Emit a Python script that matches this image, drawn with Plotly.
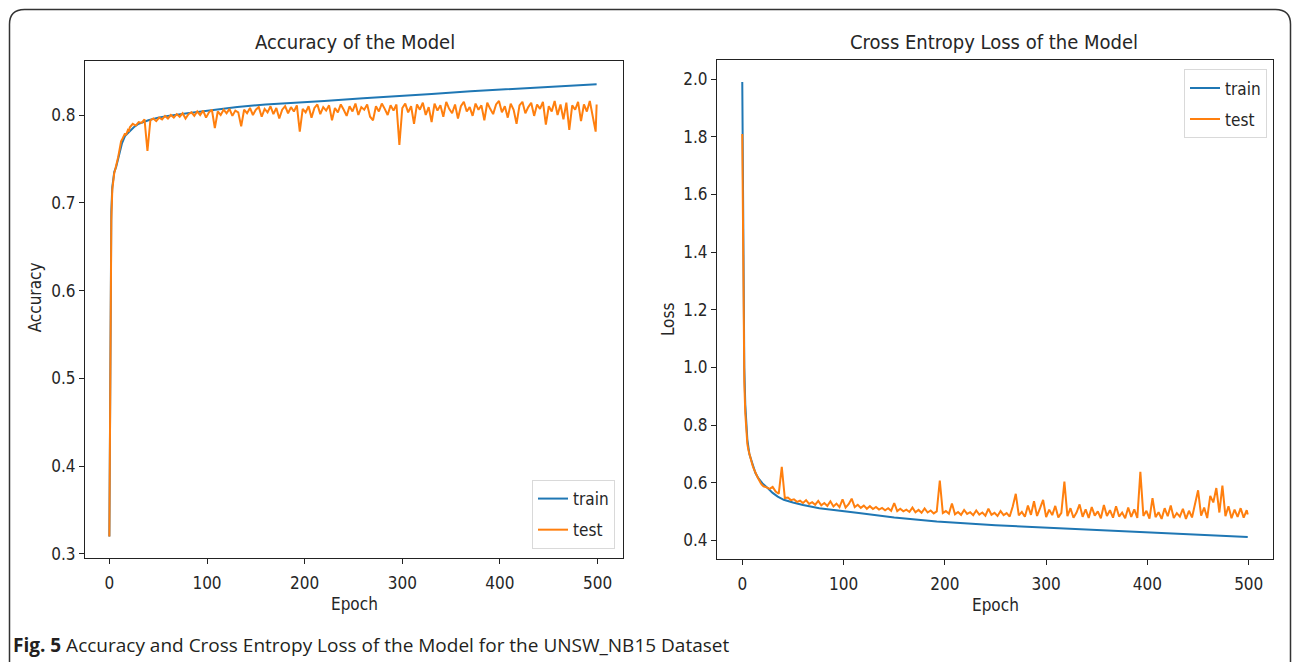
import plotly.graph_objects as go

W, H = 1292, 668

# ---------------- data ----------------
train_acc_epochs = [0, 1, 2, 3, 4, 5, 7, 10, 13, 16, 20, 25, 30, 40, 50, 60, 80, 100, 131, 160, 185, 220, 260, 293, 330, 370, 400, 440, 470, 499]
train_acc = [0.320, 0.600, 0.690, 0.718, 0.728, 0.735, 0.741, 0.756, 0.768, 0.776, 0.781, 0.786, 0.790, 0.794, 0.797, 0.799, 0.802, 0.805, 0.809, 0.812, 0.814, 0.816, 0.819, 0.821, 0.824, 0.827, 0.829, 0.831, 0.833, 0.835]

test_acc_epochs = list(range(0, 21)) + list(range(21, 499, 3)) + [499]
test_acc = [
    0.320, 0.580, 0.680, 0.715, 0.728, 0.734, 0.738, 0.742, 0.748, 0.752,
    0.758, 0.765, 0.770, 0.772, 0.775, 0.776, 0.779, 0.777, 0.781, 0.783, 0.782,
    0.786, 0.790, 0.788, 0.792, 0.791, 0.795, 0.759, 0.794, 0.796, 0.793,
    0.797, 0.795, 0.799, 0.796, 0.800, 0.797, 0.801, 0.798, 0.802, 0.796,
    0.801, 0.803, 0.799, 0.804, 0.800, 0.805, 0.797, 0.803, 0.806, 0.785,
    0.804, 0.800, 0.806, 0.802, 0.807, 0.799, 0.805, 0.803, 0.787, 0.806,
    0.802, 0.808, 0.800, 0.806, 0.809, 0.798, 0.807, 0.803, 0.810, 0.801,
    0.808, 0.796, 0.806, 0.810, 0.802, 0.809, 0.804, 0.811, 0.781, 0.807,
    0.803, 0.810, 0.797, 0.808, 0.812, 0.801, 0.809, 0.805, 0.811, 0.794,
    0.808, 0.803, 0.812, 0.806, 0.799, 0.810, 0.804, 0.813, 0.800, 0.809,
    0.806, 0.812, 0.798, 0.794, 0.810, 0.804, 0.813, 0.807, 0.800, 0.811,
    0.805, 0.812, 0.766, 0.808, 0.813, 0.803, 0.810, 0.790, 0.812, 0.806,
    0.814, 0.800, 0.809, 0.792, 0.813, 0.805, 0.811, 0.798, 0.815, 0.807,
    0.802, 0.812, 0.796, 0.810, 0.815, 0.804, 0.809, 0.799, 0.813, 0.806,
    0.811, 0.794, 0.814, 0.807, 0.801, 0.812, 0.816, 0.803, 0.810, 0.797,
    0.813, 0.806, 0.790, 0.811, 0.815, 0.802, 0.809, 0.814, 0.799, 0.812,
    0.807, 0.815, 0.789, 0.810, 0.804, 0.816, 0.800, 0.812, 0.795, 0.814,
    0.783, 0.811, 0.806, 0.815, 0.793, 0.812, 0.804, 0.816, 0.799, 0.781,
    0.812,
]

train_loss_epochs = [0, 1, 2, 3, 4, 5, 7, 10, 13, 16, 20, 25, 30, 35, 41, 50, 60, 76, 95, 115, 150, 192, 250, 308, 350, 400, 450, 499]
train_loss = [1.990, 1.300, 1.000, 0.870, 0.800, 0.750, 0.700, 0.665, 0.634, 0.615, 0.598, 0.582, 0.565, 0.552, 0.541, 0.532, 0.523, 0.512, 0.503, 0.495, 0.480, 0.466, 0.453, 0.443, 0.436, 0.428, 0.420, 0.412]

test_loss_epochs = list(range(0, 21)) + list(range(21, 499, 3)) + [499]
test_loss = [
    1.810, 1.250, 0.950, 0.840, 0.770, 0.735, 0.715, 0.700, 0.685, 0.672,
    0.662, 0.652, 0.642, 0.635, 0.628, 0.620, 0.612, 0.606, 0.600, 0.595, 0.590,
    0.588, 0.584, 0.579, 0.586, 0.570, 0.562, 0.655, 0.547, 0.549, 0.540,
    0.543, 0.534, 0.538, 0.530, 0.540, 0.527, 0.533, 0.524, 0.537, 0.522,
    0.530, 0.520, 0.536, 0.518, 0.528, 0.516, 0.543, 0.514, 0.526, 0.545,
    0.516, 0.524, 0.513, 0.521, 0.510, 0.519, 0.509, 0.516, 0.507, 0.513,
    0.505, 0.512, 0.503, 0.530, 0.502, 0.510, 0.501, 0.507, 0.499, 0.514,
    0.498, 0.506, 0.496, 0.511, 0.497, 0.504, 0.494, 0.501, 0.608, 0.495,
    0.502, 0.493, 0.528, 0.491, 0.499, 0.489, 0.506, 0.492, 0.498, 0.488,
    0.504, 0.490, 0.497, 0.486, 0.510, 0.489, 0.496, 0.485, 0.502, 0.488,
    0.495, 0.483, 0.518, 0.562, 0.487, 0.499, 0.482, 0.521, 0.489, 0.536,
    0.485, 0.512, 0.541, 0.481, 0.507, 0.488, 0.520, 0.480, 0.496, 0.604,
    0.484, 0.512, 0.479, 0.497, 0.525, 0.482, 0.508, 0.478, 0.516, 0.486,
    0.501, 0.477, 0.523, 0.485, 0.505, 0.479, 0.519, 0.483, 0.497, 0.477,
    0.514, 0.482, 0.508, 0.478, 0.638, 0.485, 0.503, 0.476, 0.547, 0.481,
    0.498, 0.475, 0.512, 0.484, 0.521, 0.478, 0.495, 0.483, 0.510, 0.475,
    0.503, 0.480, 0.526, 0.574, 0.486, 0.514, 0.478, 0.555, 0.532, 0.582,
    0.497, 0.590, 0.484, 0.519, 0.477, 0.507, 0.482, 0.512, 0.479, 0.505,
    0.490,
]

x_ticks = [0, 100, 200, 300, 400, 500]
acc_ticks = [0.3, 0.4, 0.5, 0.6, 0.7, 0.8]
loss_ticks = [0.4, 0.6, 0.8, 1.0, 1.2, 1.4, 1.6, 1.8, 2.0]

# ---------------- style ----------------
BLUE = "#1f77b4"
ORANGE = "#ff7f0e"
FONT = "DejaVu Sans Condensed, DejaVu Sans, sans-serif"
TXT = "#262626"


def px(x):
    return x / W


def py(y):
    return 1 - y / H


fig = go.Figure()
fig.add_trace(go.Scatter(x=train_acc_epochs, y=train_acc, mode="lines", name="train", legendgroup="a1",
                         line=dict(color=BLUE, width=2), xaxis="x", yaxis="y", legend="legend"))
fig.add_trace(go.Scatter(x=test_acc_epochs, y=test_acc, mode="lines", name="test", legendgroup="a2",
                         line=dict(color=ORANGE, width=2), xaxis="x", yaxis="y", legend="legend"))
fig.add_trace(go.Scatter(x=train_loss_epochs, y=train_loss, mode="lines", name="train", legendgroup="b1",
                         line=dict(color=BLUE, width=2), xaxis="x2", yaxis="y2", legend="legend2"))
fig.add_trace(go.Scatter(x=test_loss_epochs, y=test_loss, mode="lines", name="test", legendgroup="b2",
                         line=dict(color=ORANGE, width=2), xaxis="x2", yaxis="y2", legend="legend2"))

axis_common = dict(showline=True, mirror=True, linecolor="#222", linewidth=1.2,
                   ticks="outside", ticklen=5, tickwidth=1.2, tickcolor="#222",
                   showgrid=False, zeroline=False,
                   tickfont=dict(family=FONT, size=17, color=TXT))

legend_common = dict(bgcolor="white", bordercolor="#d9d9d9", borderwidth=1,
                     tracegroupgap=6, font=dict(family=FONT, size=17, color=TXT))

fig.update_layout(
    width=W, height=H, autosize=False,
    margin=dict(l=0, r=0, t=0, b=0),
    paper_bgcolor="white", plot_bgcolor="white",
    xaxis=dict(domain=[px(85), px(623)], range=[-24.95, 526], tickvals=x_ticks,
               anchor="y", ticklabelstandoff=5, **axis_common),
    yaxis=dict(domain=[py(563), py(62)], range=[0.2955, 0.861], tickvals=acc_ticks,
               tickformat=".1f", anchor="x", **axis_common),
    xaxis2=dict(domain=[px(717), px(1273)], range=[-24.95, 523.95], tickvals=x_ticks,
                anchor="y2", ticklabelstandoff=5, **axis_common),
    yaxis2=dict(domain=[py(564), py(61)], range=[0.336, 2.065], tickvals=loss_ticks,
                tickformat=".1f", anchor="x2", **axis_common),
    legend=dict(x=px(615), y=py(554), xanchor="right", yanchor="bottom", **legend_common),
    legend2=dict(x=px(1267), y=py(70), xanchor="right", yanchor="top", **legend_common),
    showlegend=True,
)


def label(text, x, y, size, angle=0):
    return dict(text=text, x=px(x), y=py(y), xref="paper", yref="paper",
                xanchor="center", yanchor="middle", textangle=angle,
                showarrow=False, font=dict(family=FONT, size=size, color=TXT))


ann = [
    label("Accuracy of the Model", 355, 42, 20),
    label("Cross Entropy Loss of the Model", 994, 42, 20),
    label("Epoch", 354, 609, 17),
    label("Epoch", 995, 610, 17),
    label("Accuracy", 35, 300, 17, -90),
    label("Loss", 668, 322, 17, -90),
    dict(text="<b>Fig. 5</b> Accuracy and Cross Entropy Loss of the Model for the UNSW_NB15 Dataset",
         x=px(11), y=py(651), xref="paper", yref="paper", xanchor="left", yanchor="middle",
         showarrow=False, font=dict(family="Open Sans, Noto Sans, sans-serif", size=19, color="#231f20")),
]
fig.update_layout(annotations=ann)

# rounded border frame of the figure panel
r = 15
path = (f"M {px(9.5)},{py(668)} L {px(9.5)},{py(9.5 + r)} "
        f"Q {px(9.5)},{py(9.5)} {px(9.5 + r)},{py(9.5)} "
        f"L {px(1290.5 - r)},{py(9.5)} Q {px(1290.5)},{py(9.5)} {px(1290.5)},{py(9.5 + r)} "
        f"L {px(1290.5)},{py(668)}")
fig.add_shape(type="path", path=path, xref="paper", yref="paper",
              line=dict(color="#333", width=1.5))

fig.write_html("out.html")
